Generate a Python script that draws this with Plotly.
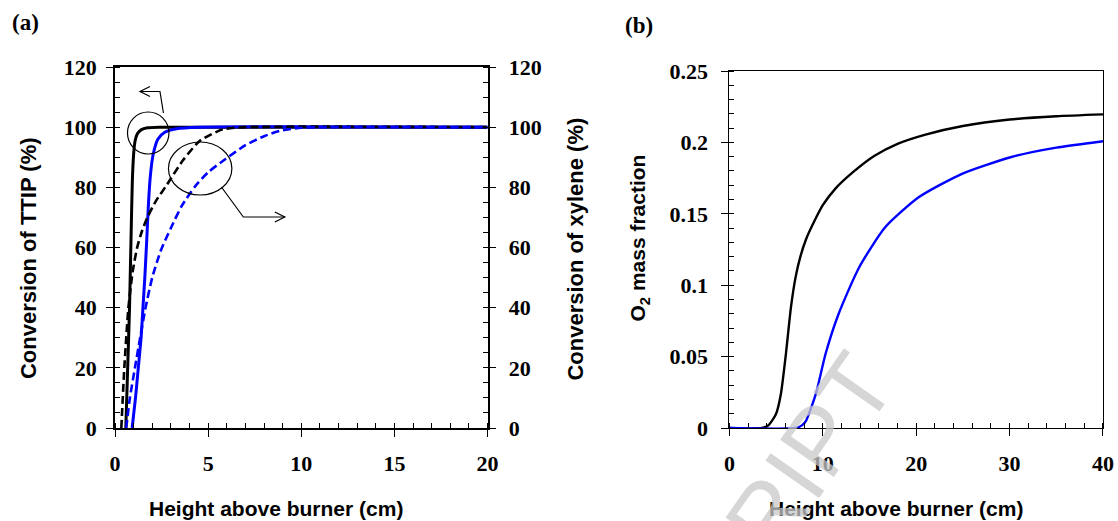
import plotly.graph_objects as go

# ---------------- data ----------------
# Panel (a): conversion (%) vs height above burner (cm)
ttip_black_x = [0.58, 0.68, 0.78, 0.86, 0.93, 1.00, 1.08, 1.20, 1.40, 1.75, 2.40, 20]
ttip_black_y = [0, 20, 40, 63, 82, 91, 95.5, 97.8, 99.1, 99.8, 100, 100]
ttip_blue_x = [0.92, 1.10, 1.25, 1.40, 1.50, 1.60, 1.70, 1.80, 1.90, 2.05, 2.30, 2.67, 3.30, 4.50, 20]
ttip_blue_y = [0, 10, 20, 30, 40, 50, 62, 75, 84, 91, 96, 98.3, 99.5, 100, 100]
xyl_black_x = [0.34, 0.50, 0.72, 0.95, 1.19, 1.45, 1.74, 2.20, 2.80, 3.65, 4.56, 5.80, 7.00, 20]
xyl_black_y = [0, 20, 40, 52, 60, 65.5, 70, 75.5, 81, 89, 95.5, 99.3, 100, 100]
xyl_blue_x = [0.60, 0.80, 1.07, 1.35, 1.64, 2.00, 2.46, 3.00, 3.60, 4.31, 5.00, 5.95, 7.00, 8.00, 9.00,
              10.0, 11.0, 20]
xyl_blue_y = [0, 10, 20, 30, 40, 50, 59, 66.5, 74, 80.4, 85, 89.5, 94, 97, 99, 99.8, 100, 100]

# Panel (b): O2 mass fraction vs height above burner (cm)
o2_black_x = [0, 3.5, 4.2, 4.98, 5.51, 6.05, 6.6, 7.1, 7.6, 8.2, 9.0, 10.0, 11.4, 13.2, 15.5, 18, 21, 25,
              30, 35, 40]
o2_black_y = [0, 0, 0.002, 0.0096, 0.0237, 0.0518, 0.085, 0.106, 0.120, 0.132, 0.1435, 0.156, 0.168,
              0.179, 0.1905, 0.199, 0.2055, 0.2115, 0.2160, 0.2183, 0.2196]
o2_blue_x = [0, 7.1, 7.8, 8.2, 9.25, 10.3, 11.7, 13.9, 16.7, 20.3, 24.9, 30.2, 35, 40]
o2_blue_y = [0, 0, 0.002, 0.005, 0.0237, 0.052, 0.080, 0.1126, 0.1407, 0.1617, 0.178, 0.1898, 0.1963,
             0.2008]

a_xticks = [0, 5, 10, 15, 20]
a_yticks = [0, 20, 40, 60, 80, 100, 120]
b_xticks = [0, 10, 20, 30, 40]
b_yticks = [0, 0.05, 0.1, 0.15, 0.2, 0.25]

# ---------------- layout geometry ----------------
W, H = 1118, 521
# the page is laid out a few px narrower than the window, so the right margin is trimmed
ML, MR, MT, MB = 115, 4, 67, 93
PW = 1104 - ML
PH = H - MT - MB


def px_x(p):
    return (p - ML) / PW


def px_y(p):
    return (H - MB - p) / PH


BLUE = "#0000FF"
TICKFONT = dict(family="Liberation Serif", size=22, color="black", weight="bold")
TITLEFONT = dict(family="Liberation Sans", size=21, color="black")
YTITLEFONT = dict(family="Liberation Sans", size=22, color="black")

fig = go.Figure()

sm = 0.6
fig.add_trace(go.Scatter(x=xyl_black_x, y=xyl_black_y, mode="lines", xaxis="x", yaxis="y3",
                         line=dict(color="black", width=2.6, dash="8px,4px", shape="spline", smoothing=sm)))
fig.add_trace(go.Scatter(x=xyl_blue_x, y=xyl_blue_y, mode="lines", xaxis="x", yaxis="y3",
                         line=dict(color=BLUE, width=2.6, dash="8px,4px", shape="spline", smoothing=sm)))
fig.add_trace(go.Scatter(x=ttip_black_x, y=ttip_black_y, mode="lines", xaxis="x", yaxis="y",
                         line=dict(color="black", width=3, shape="spline", smoothing=sm)))
fig.add_trace(go.Scatter(x=ttip_blue_x, y=ttip_blue_y, mode="lines", xaxis="x", yaxis="y",
                         line=dict(color=BLUE, width=3, shape="spline", smoothing=sm)))
fig.add_trace(go.Scatter(x=o2_black_x, y=o2_black_y, mode="lines", xaxis="x2", yaxis="y2",
                         line=dict(color="black", width=2.4, shape="spline", smoothing=sm)))
fig.add_trace(go.Scatter(x=o2_blue_x, y=o2_blue_y, mode="lines", xaxis="x2", yaxis="y2",
                         line=dict(color=BLUE, width=2.4, shape="spline", smoothing=sm)))
fig.update_traces(cliponaxis=False, hoverinfo="skip")

ax_common = dict(showgrid=False, zeroline=False, showline=True, linecolor="black",
                 ticks="outside", ticklen=7, tickwidth=1.3, tickcolor="black",
                 tickfont=TICKFONT)

fig.update_layout(
    width=W, height=H, autosize=False,
    margin=dict(l=ML, r=MR, t=MT, b=MB),
    paper_bgcolor="white", plot_bgcolor="white",
    showlegend=False,
    xaxis=dict(ax_common, domain=[0, px_x(488)], range=[0, 20], tickvals=a_xticks,
               linewidth=1.5, mirror=True, anchor="y", ticklabelstandoff=8,
               minor=dict(dtick=1, ticks="inside", ticklen=5, tickcolor="black", showgrid=False)),
    yaxis=dict(ax_common, domain=[0, 1], range=[0, 120], tickvals=a_yticks,
               linewidth=1.5, anchor="x", ticklabelstandoff=5,
               minor=dict(dtick=5, ticks="inside", ticklen=5, tickcolor="black", showgrid=False)),
    yaxis3=dict(ax_common, range=[0, 120], tickvals=a_yticks, overlaying="y", side="right",
                anchor="x", linewidth=1.5, ticklabelstandoff=8,
                minor=dict(dtick=5, ticks="inside", ticklen=5, tickcolor="black", showgrid=False)),
    xaxis2=dict(ax_common, domain=[px_x(730), 1], range=[0, 40], tickvals=b_xticks,
                linewidth=1.2, mirror=True, anchor="y2", ticklabelstandoff=8,
                minor=dict(dtick=2, ticks="inside", ticklen=5, tickcolor="black", showgrid=False)),
    yaxis2=dict(ax_common, domain=[0, px_y(71)], range=[0, 0.25], tickvals=b_yticks,
                linewidth=1.2, mirror=True, anchor="x2", ticklabelstandoff=9,
                minor=dict(dtick=0.01, ticks="inside", ticklen=5, tickcolor="black", showgrid=False)),
)

# ---------------- text ----------------
ann = []


def paper_text(text, px, py, font, angle=0, xanchor="center", yanchor="middle"):
    ann.append(dict(text=text, x=px_x(px), y=px_y(py), xref="paper", yref="paper",
                    showarrow=False, font=font, textangle=angle,
                    xanchor=xanchor, yanchor=yanchor))


paper_text("<b>Conversion of TTIP (%)</b>", 28, 258, YTITLEFONT, -90)
paper_text("<b>Conversion of xylene (%)</b>", 575, 249, YTITLEFONT, -90)
paper_text("<b>O<sub>2</sub> mass fraction</b>", 640, 238, TITLEFONT, -90)
paper_text("<b>Height above burner (cm)</b>", 276, 508, TITLEFONT)
paper_text("<b>Height above burner (cm)</b>", 897, 508, TITLEFONT)
paper_text("<b>(a)</b>", 25, 22, dict(family="Liberation Serif", size=23, color="black"))
paper_text("<b>(b)</b>", 640, 26, dict(family="Liberation Serif", size=23, color="black"))

# watermark
ann.append(dict(text="ACCEPTED MANUSCRIPT", x=px_x(919), y=px_y(332), xref="paper", yref="paper",
                showarrow=False, textangle=-55, xanchor="right", yanchor="top",
                font=dict(family="Liberation Sans", size=95, color="rgba(200,200,200,0.75)")))
fig.update_layout(annotations=ann)

# ---------------- circles and arrows on panel (a) ----------------
KX = 20 / (488 - 115)   # cm per px
KY = 120 / (428 - 67)   # % per px


def dx(p):
    return (p - 115) * KX


def dy(p):
    return (428 - p) * KY


shapes = []
line_st = dict(color="black", width=1.2)
shapes.append(dict(type="circle", xref="x", yref="y", x0=dx(127.5), x1=dx(169), y0=dy(154), y1=dy(112),
                   line=line_st))
shapes.append(dict(type="circle", xref="x", yref="y", x0=dx(168.5), x1=dx(232), y0=dy(195), y1=dy(142),
                   line=line_st))
# arrow 1 (points left, to TTIP axis)
p1 = [(163.5, 113), (160, 91.5), (140, 91.5)]
shapes.append(dict(type="path", xref="x", yref="y", line=line_st,
                   path="M {} {} L {} {} L {} {}".format(dx(p1[0][0]), dy(p1[0][1]), dx(p1[1][0]), dy(p1[1][1]),
                                                         dx(p1[2][0]), dy(p1[2][1]))))
shapes.append(dict(type="path", xref="x", yref="y", line=line_st,
                   path="M {} {} L {} {} L {} {}".format(dx(150), dy(86.5), dx(140), dy(91.5), dx(150), dy(96.5))))
# arrow 2 (points right, to xylene axis)
p2 = [(221.5, 187), (243.5, 217), (285, 217)]
shapes.append(dict(type="path", xref="x", yref="y", line=line_st,
                   path="M {} {} L {} {} L {} {}".format(dx(p2[0][0]), dy(p2[0][1]), dx(p2[1][0]), dy(p2[1][1]),
                                                         dx(p2[2][0]), dy(p2[2][1]))))
shapes.append(dict(type="path", xref="x", yref="y", line=line_st,
                   path="M {} {} L {} {} L {} {}".format(dx(275), dy(212), dx(285), dy(217), dx(275), dy(222))))
fig.update_layout(shapes=shapes)

fig.write_html("out.html", config={"displayModeBar": False, "responsive": False},
               post_script="document.body.style.margin='0px';")
